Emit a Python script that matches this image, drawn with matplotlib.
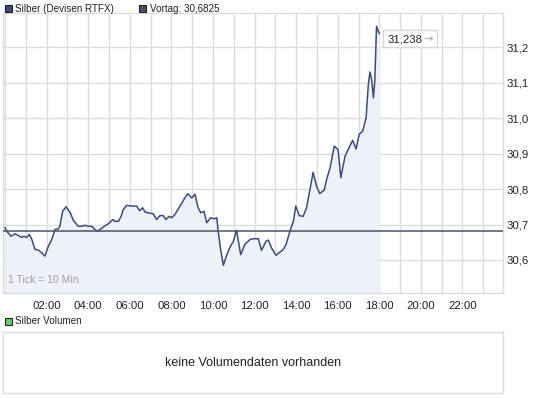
import matplotlib
matplotlib.use("Agg")
import matplotlib.pyplot as plt
import matplotlib.patches as patches
import numpy as np

# intraday silver quotes (time of day, price)
times = ["00:00", "00:05", "00:17", "00:29", "00:38", "00:48", "00:55", "01:02", "01:10", "01:17",
         "01:26", "01:36", "01:46", "01:55", "02:05", "02:15", "02:24", "02:34", "02:38", "02:46",
         "02:56", "03:08", "03:17", "03:31", "03:41", "03:51", "04:00", "04:10", "04:25", "04:34",
         "04:49", "04:58", "05:11", "05:17", "05:27", "05:35", "05:41", "05:51", "06:05", "06:20",
         "06:28", "06:37", "06:44", "06:53", "07:08", "07:17", "07:27", "07:37", "07:44", "07:53",
         "08:01", "08:10", "08:25", "08:39", "08:47", "08:59", "09:08", "09:17", "09:25", "09:34",
         "09:42", "09:53", "10:03", "10:11", "10:15", "10:22", "10:30", "10:40", "10:49", "10:59",
         "11:08", "11:20", "11:32", "11:47", "11:58", "12:11", "12:20", "12:33", "12:40", "12:49",
         "13:02", "13:13", "13:23", "13:31", "13:42", "13:52", "13:59", "14:09", "14:20", "14:30",
         "14:40", "14:49", "14:59", "15:08", "15:21", "15:28", "15:38", "15:50", "16:01", "16:09",
         "16:21", "16:30", "16:43", "16:53", "17:02", "17:12", "17:22", "17:28", "17:33", "17:38",
         "17:43", "17:47", "17:52", "17:57", "18:00"]
prices = [30.691, 30.681, 30.667, 30.674, 30.669, 30.664, 30.667, 30.663, 30.672, 30.658,
          30.630, 30.628, 30.620, 30.611, 30.639, 30.658, 30.686, 30.688, 30.695, 30.737,
          30.750, 30.733, 30.712, 30.695, 30.695, 30.698, 30.695, 30.695, 30.681, 30.686,
          30.697, 30.702, 30.714, 30.709, 30.709, 30.723, 30.742, 30.754, 30.752, 30.752,
          30.739, 30.747, 30.735, 30.733, 30.730, 30.714, 30.725, 30.725, 30.714, 30.723,
          30.719, 30.728, 30.752, 30.775, 30.787, 30.775, 30.785, 30.747, 30.733, 30.737,
          30.705, 30.719, 30.716, 30.719, 30.681, 30.630, 30.585, 30.615, 30.636, 30.653,
          30.684, 30.615, 30.644, 30.658, 30.660, 30.660, 30.627, 30.653, 30.656, 30.634,
          30.613, 30.622, 30.630, 30.644, 30.681, 30.709, 30.752, 30.725, 30.723, 30.747,
          30.799, 30.847, 30.808, 30.787, 30.797, 30.827, 30.860, 30.921, 30.911, 30.832,
          30.892, 30.911, 30.937, 30.913, 30.954, 30.963, 31.001, 31.090, 31.130, 31.108,
          31.057, 31.104, 31.259, 31.245, 31.238]
prev_close = 30.6825

y_ticks = [30.6, 30.7, 30.8, 30.9, 31.0, 31.1, 31.2]
x_ticks = list(range(2, 24, 2))


def to_hours(t):
    hh, mm = t.split(":")
    return int(hh) + int(mm) / 60.0


def de_num(v, nd):
    return ("%.*f" % (nd, v)).replace(".", ",")


W, H = 545, 398
plt.rcParams["font.family"] = ["Liberation Sans", "DejaVu Sans"]
fig = plt.figure(figsize=(W / 100, H / 100), dpi=100)

grid_c = "#dcdcdc"
line_c = "#3d4b7a"
fill_c = "#eef1f9"
txt_c = "#222222"
fs = 8.2      # tick labels
fs_leg = 7.1  # legend labels


def px_box(x0, y0, x1, y1):
    # pixel box (top-left origin) -> figure fraction
    return [x0 / W, 1 - y1 / H, (x1 - x0) / W, (y1 - y0) / H]


# main price panel
ax = fig.add_axes(px_box(3, 13, 503, 293))
hrs = np.array([to_hours(t) for t in times])
vals = np.array(prices)
ymin, ymax = 30.507, 31.296
ax.fill_between(hrs, vals, ymin, color=fill_c, lw=0, zorder=1)
ax.plot(hrs, vals, color=line_c, lw=1.1, zorder=3)
ax.axhline(prev_close, color="#4b5166", lw=1.1, zorder=4)

ax.set_xlim(-0.1, 23.95)
ax.set_ylim(ymin, ymax)
ax.set_xticks(range(0, 24))
ax.set_yticks(y_ticks)
ax.grid(True, color=grid_c, lw=1.0, zorder=0)
ax.set_axisbelow(True)
ax.set_xticklabels(["%02d:00" % h if h in x_ticks else "" for h in range(24)])
ax.set_yticklabels([de_num(v, 1) for v in y_ticks])
ax.yaxis.tick_right()
ax.tick_params(length=0, labelsize=fs, colors=txt_c, pad=2.5)
ax.tick_params(axis="x", pad=6)
for s in ax.spines.values():
    s.set_color(grid_c)
    s.set_linewidth(1.0)

ax.text(0.01, 0.03, "1 Tick = 10 Min.", transform=ax.transAxes, fontsize=7.5,
        color="#a0a0a0", ha="left", va="bottom")

# last price tag
fig.patches.append(patches.Rectangle((383 / W, 1 - 47 / H), 54 / W, 17 / H,
                                     transform=fig.transFigure, facecolor="white",
                                     edgecolor="#d8d8d8", lw=1.0, zorder=5))
fig.text(388 / W, 1 - 39 / H, de_num(vals[-1], 3), fontsize=fs, color=txt_c,
         ha="left", va="center", zorder=6)
fig.text(423 / W, 1 - 39 / H, "\u2192", fontsize=fs, color="#b0b0b0",
         ha="left", va="center", zorder=6, fontweight="bold", family="DejaVu Sans")

# top legend
fig.patches.append(patches.Rectangle((5 / W, 1 - 12 / H), 7 / W, 7 / H, transform=fig.transFigure,
                                     facecolor="#3d4b7a", edgecolor="#222222", lw=0.8))
fig.text(15 / W, 1 - 8.5 / H, "Silber (Devisen RTFX)", fontsize=fs_leg, color=txt_c, va="center")
fig.patches.append(patches.Rectangle((139 / W, 1 - 12 / H), 7 / W, 7 / H, transform=fig.transFigure,
                                     facecolor="#4b5166", edgecolor="#222222", lw=0.8))
fig.text(150 / W, 1 - 8.5 / H, "Vortag: " + de_num(prev_close, 4), fontsize=fs_leg, color=txt_c,
         va="center")

# volume panel (empty)
fig.patches.append(patches.Rectangle((5 / W, 1 - 325 / H), 7 / W, 7 / H, transform=fig.transFigure,
                                     facecolor="#66cc66", edgecolor="#222222", lw=0.8))
fig.text(15 / W, 1 - 321.5 / H, "Silber Volumen", fontsize=fs_leg, color=txt_c, va="center")

axv = fig.add_axes(px_box(3, 332, 503, 393))
axv.set_xticks([])
axv.set_yticks([])
for s in axv.spines.values():
    s.set_color(grid_c)
    s.set_linewidth(1.0)
axv.text(0.5, 0.5, "keine Volumendaten vorhanden", transform=axv.transAxes,
         ha="center", va="center", fontsize=9, color=txt_c)

fig.savefig("out.png", dpi=100, facecolor="white")
